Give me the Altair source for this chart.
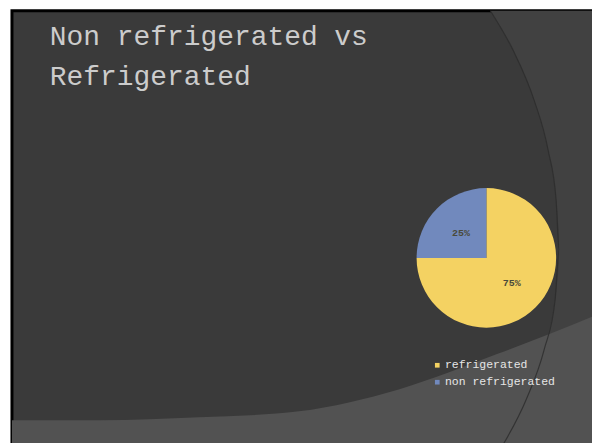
import altair as alt
import pandas as pd

# ---- data ----
categories = ["refrigerated", "non refrigerated"]
shares = [75, 25]
share_labels = ["75%", "25%"]
slice_colors = ["#f4d262", "#7189bd"]

title_lines = ["Non refrigerated vs", "Refrigerated"]

# decorative slide background shapes (slide pixel units)
band_x = [12, 100, 200, 300, 350, 400, 450, 500, 550, 594]
band_y = [421, 421, 418, 412, 403, 390, 373, 354, 335, 317]
arc_x = [492, 515, 536, 550, 558, 561, 557, 546, 528, 505]
arc_y = [10, 50, 100, 150, 200, 250, 300, 350, 400, 445]

W, H = 582, 435
XD = [12, 594]
YD = [10, 445]

pie_df = pd.DataFrame({"cat": categories, "share": shares,
                       "lab": share_labels, "idx": list(range(len(categories)))})
band_df = pd.DataFrame({"x": band_x, "y": band_y})
arc_df = pd.DataFrame({"x": arc_x, "y": arc_y})

xs = alt.Scale(domain=XD, nice=False, zero=False)
ys = alt.Scale(domain=YD, nice=False, zero=False, reverse=True)

right_region = alt.Chart(arc_df).mark_area(
    orient="horizontal", color="#414141", interpolate="monotone"
).encode(
    y=alt.Y("y:Q", scale=ys, axis=None),
    x=alt.X("x:Q", scale=xs, axis=None),
    x2=alt.datum(594),
)

band = alt.Chart(band_df).mark_area(
    color="#525252", interpolate="monotone"
).encode(
    x=alt.X("x:Q", scale=xs, axis=None),
    y=alt.Y("y:Q", scale=ys, axis=None),
    y2=alt.datum(445),
)

arc_line = alt.Chart(arc_df).mark_line(
    color="#2c2c2c", strokeWidth=1.2, opacity=0.8, interpolate="monotone"
).encode(
    x=alt.X("x:Q", scale=xs, axis=None),
    y=alt.Y("y:Q", scale=ys, axis=None),
    order="y:Q",
)

pie = alt.Chart(pie_df).mark_arc(radius=70).encode(
    theta=alt.Theta("share:Q", stack=True),
    order=alt.Order("idx:Q"),
    color=alt.Color(
        "cat:N",
        scale=alt.Scale(domain=categories, range=slice_colors),
        sort=categories,
        legend=alt.Legend(
            orient="none", legendX=421, legendY=350, title=None,
            labelFont="Liberation Mono", labelFontSize=11.5,
            labelColor="#e6e6e6", symbolType="square", symbolSize=22,
            symbolStrokeWidth=0, rowPadding=4, labelOffset=2,
        ),
    ),
    x=alt.value(476),
    y=alt.value(248),
)

labels = alt.Chart(pie_df).mark_text(
    radius=36, font="Liberation Mono", fontSize=10, fontWeight="bold",
    color="#4a4a3a",
).encode(
    theta=alt.Theta("share:Q", stack=True),
    order=alt.Order("idx:Q"),
    text="lab:N",
    x=alt.value(476),
    y=alt.value(248),
)

chart = alt.layer(right_region, band, arc_line, pie, labels).properties(
    width=W, height=H,
    autosize=alt.AutoSizeParams(type="none"),
    padding={"left": 12, "top": 10, "right": 0, "bottom": 0},
    background="white",
    title=alt.TitleParams(
        text=title_lines, anchor="start", font="Liberation Mono",
        fontSize=28, fontWeight="normal", color="#cccccc",
        lineHeight=40, dx=38, dy=87, baseline="top",
    ),
).configure_view(
    fill="#3a3a3a", stroke="black", strokeWidth=3
)

chart.save("out.html", embed_options={"renderer": "svg", "actions": False})
